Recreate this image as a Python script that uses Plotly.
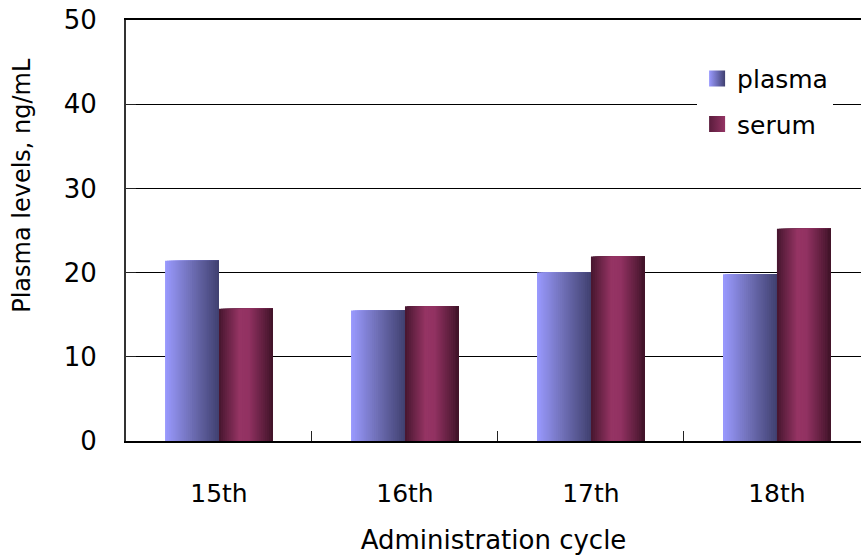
import plotly.graph_objects as go

# Drug levels per administration cycle
cycles = ["15th", "16th", "17th", "18th"]
plasma = [21.4, 15.5, 20.0, 19.8]
serum = [15.7, 16.0, 21.9, 25.2]

FONT = "DejaVu Sans"
BAR_W = 0.29          # width of one bar, in category units
N_SLICES = 28         # vertical strips used to shade each bar


def lerp_stops(stops, t):
    """Interpolate an RGB colour from a list of (position, (r, g, b)) stops."""
    for (p0, c0), (p1, c1) in zip(stops[:-1], stops[1:]):
        if p0 <= t <= p1:
            f = 0 if p1 == p0 else (t - p0) / (p1 - p0)
            r, g, b = (round(a + (b_ - a) * f) for a, b_ in zip(c0, c1))
            return f"rgb({r},{g},{b})"
    r, g, b = stops[-1][1]
    return f"rgb({r},{g},{b})"


plasma_stops = [(0.0, (154, 154, 255)), (0.5, (110, 110, 180)), (1.0, (64, 64, 112))]
serum_stops = [(0.0, (70, 22, 46)), (0.38, (150, 52, 100)), (0.55, (146, 50, 98)),
               (1.0, (64, 19, 40))]

fig = go.Figure()


def add_shaded_bars(values, start, stops):
    # Each strip runs from its own left edge to the bar's right edge; later
    # strips sit on top, so the bar is fully covered with a horizontal shade.
    for k in range(N_SLICES):
        t0 = k / N_SLICES
        fig.add_trace(go.Bar(
            x=cycles, y=values,
            offset=start + BAR_W * t0,
            width=BAR_W * (1 - t0),
            marker=dict(color=lerp_stops(stops, (k + 0.5) / N_SLICES),
                        line=dict(width=0)),
            showlegend=False, hoverinfo="skip",
        ))


add_shaded_bars(plasma, -BAR_W, plasma_stops)
add_shaded_bars(serum, 0.0, serum_stops)

# Legend entries with shaded square swatches
fig.add_trace(go.Scatter(
    x=[None], y=[None], mode="markers", name="plasma", legendgroup="a",
    marker=dict(symbol="square", size=16, color="#9a9aff",
                gradient=dict(type="horizontal", color="#404070"),
                line=dict(width=0)),
))
fig.add_trace(go.Scatter(
    x=[None], y=[None], mode="markers", name="serum", legendgroup="b",
    marker=dict(symbol="square", size=16, color="#5a1c3c",
                gradient=dict(type="horizontal", color="#943464"),
                line=dict(width=0)),
))

fig.update_layout(
    width=861, height=558,
    margin=dict(l=126, r=0, t=20, b=117),
    paper_bgcolor="white", plot_bgcolor="white",
    barmode="overlay",
    font=dict(family=FONT, size=24, color="black"),
    showlegend=True,
    legend=dict(
        x=0.777, xanchor="left", y=0.915, yanchor="top",
        bgcolor="white", borderwidth=0,
        font=dict(family=FONT, size=25, color="black"),
        traceorder="grouped", tracegroupgap=10,
    ),
    xaxis=dict(
        type="category", categoryorder="array", categoryarray=cycles,
        range=[-0.5, 3.452],
        tickson="boundaries", ticks="inside", ticklen=10, tickwidth=1,
        tickcolor="#222222",
        showline=True, linecolor="black", linewidth=2, mirror=True,
        showgrid=False,
        tickfont=dict(family=FONT, size=25, color="black"),
        ticklabelstandoff=29,
        title=dict(text="Administration cycle", standoff=24,
                   font=dict(family=FONT, size=26, color="black")),
    ),
    yaxis=dict(
        range=[0, 50], dtick=10, tick0=0,
        showgrid=True, gridcolor="black", gridwidth=1,
        zeroline=False,
        showline=True, linecolor="#333333", linewidth=2,
        ticks="inside", ticklen=10, tickwidth=1, tickcolor="#222222",
        tickfont=dict(family=FONT, size=26, color="black"),
        ticklabelstandoff=22,
    ),
    annotations=[dict(
        text="Plasma levels, ng/mL", textangle=-90,
        xref="paper", yref="paper", x=-0.1415, y=0.6085,
        xanchor="center", yanchor="middle", showarrow=False,
        font=dict(family=FONT, size=24, color="black"),
    )],
)

fig.write_html("out.html")
